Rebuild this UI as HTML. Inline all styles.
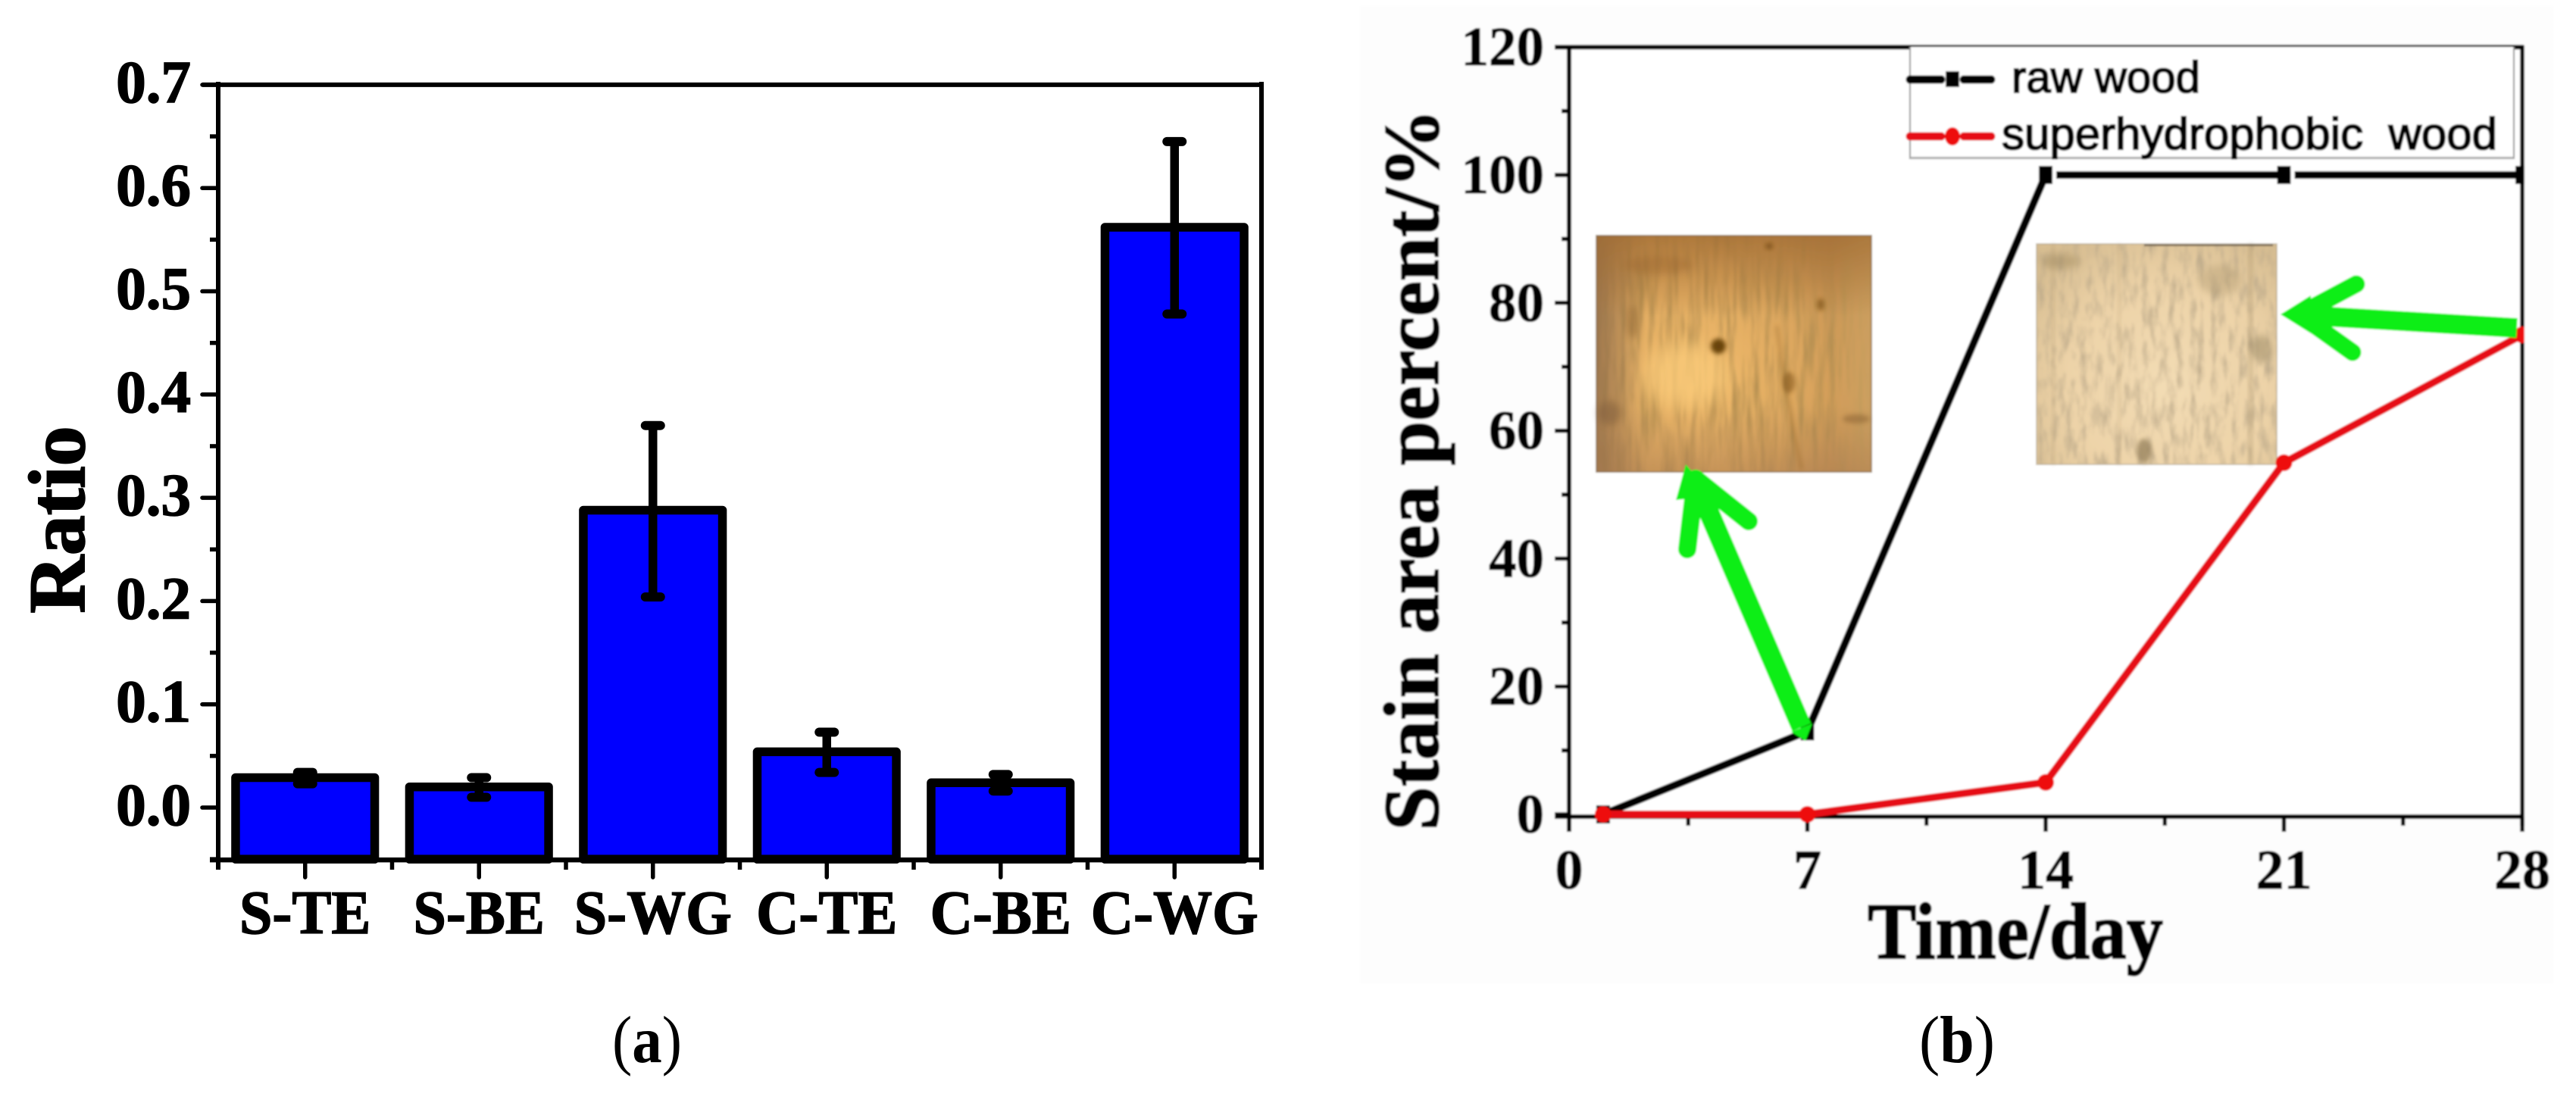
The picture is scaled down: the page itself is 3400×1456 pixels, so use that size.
<!DOCTYPE html>
<html lang="en">
<head>
<meta charset="utf-8">
<title>Ratio bar chart and stain area line chart</title>
<style>
html,body{margin:0;padding:0;background:#fff;}
body{width:3400px;height:1456px;overflow:hidden;}
svg{display:block;}
text{font-family:"Liberation Serif",serif;fill:#000;}
.sans{font-family:"Liberation Sans",sans-serif;}
</style>
</head>
<body>
<svg id="figure" xmlns="http://www.w3.org/2000/svg" width="3400" height="1456" viewBox="0 0 3400 1456">
  <defs>
    <clipPath id="plotClip"><rect x="2060" y="50" width="1272" height="1045"/></clipPath>
    <filter id="soft" x="-2%" y="-2%" width="104%" height="104%"><feGaussianBlur stdDeviation="1"/></filter>
    <filter id="blur3" x="-50%" y="-50%" width="200%" height="200%"><feGaussianBlur stdDeviation="3"/></filter>
    <filter id="blur5" x="-50%" y="-50%" width="200%" height="200%"><feGaussianBlur stdDeviation="5"/></filter>
    <filter id="blur12" x="-50%" y="-50%" width="200%" height="200%"><feGaussianBlur stdDeviation="12"/></filter>
    <filter id="grainA" x="0" y="0" width="100%" height="100%">
      <feTurbulence type="fractalNoise" baseFrequency="0.13 0.012" numOctaves="4" seed="4"/>
      <feColorMatrix type="matrix" values="0 0 0 0 0.45  0 0 0 0 0.27  0 0 0 0 0.08  2.2 0 0 0 -0.85"/>
      <feGaussianBlur stdDeviation="1"/>
      <feComposite in2="SourceGraphic" operator="in"/>
    </filter>
    <filter id="grainB" x="0" y="0" width="100%" height="100%">
      <feTurbulence type="fractalNoise" baseFrequency="0.11 0.03" numOctaves="4" seed="11"/>
      <feColorMatrix type="matrix" values="0 0 0 0 0.52  0 0 0 0 0.41  0 0 0 0 0.26  2.0 0 0 0 -0.86"/>
      <feGaussianBlur stdDeviation="1"/>
      <feComposite in2="SourceGraphic" operator="in"/>
    </filter>
    <radialGradient id="woodAGlow" gradientUnits="userSpaceOnUse" cx="2235" cy="500" r="270">
      <stop offset="0" stop-color="#f3be6e"/>
      <stop offset="0.55" stop-color="#dca65e"/>
      <stop offset="1" stop-color="#b8864e"/>
    </radialGradient>
    <linearGradient id="woodAEdge" x1="0" y1="0" x2="1" y2="0">
      <stop offset="0" stop-color="#8f6c4a" stop-opacity="0.8"/>
      <stop offset="0.18" stop-color="#8f6c4a" stop-opacity="0"/>
      <stop offset="0.85" stop-color="#e8bc72" stop-opacity="0"/>
      <stop offset="1" stop-color="#d9b06c" stop-opacity="0.5"/>
    </linearGradient>
    <linearGradient id="woodATop" x1="0" y1="0" x2="0" y2="1">
      <stop offset="0" stop-color="#a06a30" stop-opacity="0.7"/>
      <stop offset="0.34" stop-color="#a06a30" stop-opacity="0"/>
      <stop offset="0.72" stop-color="#a87a50" stop-opacity="0"/>
      <stop offset="1" stop-color="#a87a50" stop-opacity="0.45"/>
    </linearGradient>
    <radialGradient id="woodBGlow" gradientUnits="userSpaceOnUse" cx="2860" cy="510" r="220">
      <stop offset="0" stop-color="#f3dcb4"/>
      <stop offset="0.6" stop-color="#edd3a8"/>
      <stop offset="1" stop-color="#d8be92"/>
    </radialGradient>
  </defs>

  <rect x="0" y="0" width="3400" height="1456" fill="#ffffff"/>

  <g id="panel-a">
    <text transform="translate(111,686) rotate(-90)" text-anchor="middle" font-weight="700" font-size="106" stroke="#000" stroke-width="2">Ratio</text>
    <g id="a-bars"></g>
    <g id="a-axes"></g>
    <g id="a-errors"></g>
  </g>
  <text x="808" y="1402" font-size="88" textLength="92" lengthAdjust="spacingAndGlyphs">(<tspan font-weight="700">a</tspan>)</text>

  <g id="panel-b" filter="url(#soft)">
    <rect x="1795" y="8" width="1575" height="1290" fill="#fdfdfd"/>
    <rect x="2071" y="62" width="1259" height="1014" fill="#ffffff"/>

    <g>
      <rect x="2107" y="311" width="363" height="312" fill="url(#woodAGlow)"/>
      <rect x="2107" y="311" width="363" height="312" fill="#000" filter="url(#grainA)"/>
      <rect x="2107" y="311" width="363" height="312" fill="url(#woodAEdge)"/>
      <rect x="2107" y="311" width="363" height="312" fill="url(#woodATop)"/>
      <ellipse cx="2225" cy="495" rx="55" ry="42" fill="#f9c978" opacity="0.8" filter="url(#blur12)"/>
      <ellipse cx="2268" cy="457" rx="10" ry="10" fill="#5c3806" opacity="0.9" filter="url(#blur3)"/>
      <ellipse cx="2403" cy="402" rx="5" ry="8" fill="#7c5212" opacity="0.7" filter="url(#blur3)"/>
      <ellipse cx="2361" cy="505" rx="8" ry="14" fill="#83561a" opacity="0.6" filter="url(#blur3)"/>
      <ellipse cx="2335" cy="325" rx="5" ry="4" fill="#704510" opacity="0.7" filter="url(#blur3)"/>
      <ellipse cx="2155" cy="425" rx="8" ry="22" fill="#7a5526" opacity="0.4" filter="url(#blur5)"/>
      <ellipse cx="2125" cy="545" rx="16" ry="16" fill="#6f5030" opacity="0.4" filter="url(#blur5)"/>
      <ellipse cx="2450" cy="553" rx="18" ry="6" fill="#80592a" opacity="0.45" filter="url(#blur3)"/>
      <ellipse cx="2190" cy="350" rx="45" ry="12" fill="#95602a" opacity="0.35" filter="url(#blur5)"/>
      <path d="M2345 430 C2355 500 2365 560 2378 620" fill="none" stroke="#7d5318" stroke-width="4" opacity="0.35" filter="url(#blur3)"/>
      <rect x="2107" y="311" width="363" height="312" fill="none" stroke="#6f5230" stroke-opacity="0.55" stroke-width="2"/>
    </g>

    <g>
      <rect x="2688" y="322" width="317" height="291" fill="url(#woodBGlow)"/>
      <rect x="2688" y="322" width="317" height="291" fill="#000" filter="url(#grainB)"/>
      <rect x="2795" y="322" width="4" height="291" fill="#a58d68" opacity="0.22" filter="url(#blur3)"/>
      <rect x="2968" y="322" width="5" height="291" fill="#9a8460" opacity="0.35" filter="url(#blur3)"/>
      <rect x="2708" y="322" width="4" height="291" fill="#a58d68" opacity="0.25" filter="url(#blur3)"/>
      <ellipse cx="2830" cy="595" rx="10" ry="16" fill="#73603c" opacity="0.55" filter="url(#blur3)"/>
      <ellipse cx="2720" cy="345" rx="26" ry="10" fill="#a08a60" opacity="0.5" filter="url(#blur5)"/>
      <ellipse cx="2930" cy="370" rx="28" ry="20" fill="#a69069" opacity="0.35" filter="url(#blur5)"/>
      <ellipse cx="2985" cy="460" rx="14" ry="18" fill="#8a7a58" opacity="0.45" filter="url(#blur5)"/>
      <rect x="2830" y="322" width="170" height="3" fill="#5f5340" opacity="0.7"/>
      <rect x="2688" y="322" width="317" height="291" fill="none" stroke="#8a7a60" stroke-opacity="0.35" stroke-width="2"/>
    </g>

    <g id="b-axes"></g>
    <g id="b-series" clip-path="url(#plotClip)"></g>

    <g>
      <path d="M2521 62V209H3318V62" fill="#ffffff" stroke="#8c8c8c" stroke-width="2"/>
      <rect x="2521" y="207" width="797" height="3" fill="#aaaaaa"/>
      <g>
        <path d="M2521 105H2562M2592 105H2628" stroke="#000" stroke-width="11" stroke-linecap="round"/>
        <rect x="2568" y="94" width="18" height="21" fill="#000"/>
        <text class="sans" x="2655" y="122" font-size="58" stroke="#000" stroke-width="2" textLength="249" lengthAdjust="spacingAndGlyphs">raw wood</text>
      </g>
      <g>
        <path d="M2521 180H2562M2592 180H2628" stroke="#e60b14" stroke-width="11" stroke-linecap="round"/>
        <ellipse cx="2577" cy="180" rx="10" ry="12" fill="#ee0a10"/>
        <text class="sans" x="2642" y="197" font-size="59" stroke="#000" stroke-width="2" textLength="654" lengthAdjust="spacingAndGlyphs" xml:space="preserve">superhydrophobic  wood</text>
      </g>
    </g>

    <g fill="none" stroke="#0aee12" stroke-width="24" stroke-linecap="round" stroke-linejoin="round">
      <path d="M2238 632L2227 725"/>
      <path d="M2238 632L2308 688"/>
      <path d="M2240 640L2378 960" stroke-width="27" stroke-linecap="butt"/>
      <path d="M2225 613L2212 660L2262 655Z" fill="#0aee12" stroke="none"/>
      <path d="M2364 966L2392 955L2383 978Z" fill="#0aee12" stroke="none"/>
    </g>
    <g fill="none" stroke="#0aee12" stroke-width="23" stroke-linecap="round" stroke-linejoin="round">
      <path d="M3035 415L3110 375"/>
      <path d="M3035 415L3105 465"/>
      <path d="M3040 416L3322 433" stroke-width="26" stroke-linecap="butt"/>
      <path d="M3010 415L3050 390L3050 440Z" fill="#0aee12" stroke="none"/>
    </g>

    <text transform="translate(1898,620) rotate(-90)" text-anchor="middle" font-weight="700" font-size="104" stroke="#000" stroke-width="2" textLength="953" lengthAdjust="spacingAndGlyphs">Stain area percent/%</text>
    <text x="2465" y="1265" font-weight="700" font-size="106" stroke="#000" stroke-width="2" textLength="390" lengthAdjust="spacingAndGlyphs">Time/day</text>
  </g>
  <text x="2533" y="1402" font-size="88" textLength="100" lengthAdjust="spacingAndGlyphs">(<tspan font-weight="700">b</tspan>)</text>
</svg>

<script>
/* Panel (a) data */
const barCategories = ['S-TE', 'S-BE', 'S-WG', 'C-TE', 'C-BE', 'C-WG'];
const barValues = [0.029, 0.020, 0.288, 0.054, 0.024, 0.562];
const errorUpper = [0.034, 0.029, 0.370, 0.073, 0.032, 0.645];
const errorLower = [0.023, 0.010, 0.204, 0.034, 0.016, 0.478];
const ratioTicks = ['0.0', '0.1', '0.2', '0.3', '0.4', '0.5', '0.6', '0.7'];
const ratioMinorTicks = [-0.05, 0.05, 0.15, 0.25, 0.35, 0.45, 0.55, 0.65];

/* Panel (b) data */
const days = [1, 7, 14, 21, 28];
const rawWood = [0, 13, 100, 100, 100];
const superhydrophobicWood = [0, 0, 5, 55, 75];
const dayTicks = [0, 7, 14, 21, 28];
const dayMinorTicks = [3.5, 10.5, 17.5, 24.5];
const stainTicks = [0, 20, 40, 60, 80, 100, 120];
const stainMinorTicks = [10, 30, 50, 70, 90, 110];

const NS = 'http://www.w3.org/2000/svg';
function make(parent, tag, geometry) {
  const el = document.createElementNS(NS, tag);
  for (const key in geometry) el.setAttribute(key, geometry[key]);
  parent.appendChild(el);
  return el;
}

/* ---------- Panel (a) ---------- */
const ratioY = v => 1066 - v * 1363;
const A_LEFT = 288, A_RIGHT = 1665;
const bandWidth = (A_RIGHT - A_LEFT) / barCategories.length;
const bandX = i => A_LEFT + bandWidth * (i + 0.5);

const aBars = document.getElementById('a-bars');
const aAxes = document.getElementById('a-axes');
const aErrors = document.getElementById('a-errors');
const A_BOTTOM = ratioY(-0.05);

barValues.forEach((value, i) => {
  const w = bandWidth * 0.8;
  const bar = make(aBars, 'rect', {
    x: bandX(i) - w / 2, y: ratioY(value), width: w, height: A_BOTTOM - ratioY(value),
    fill: '#0000ff', stroke: '#000', 'stroke-width': 11.5, 'stroke-linejoin': 'round'
  });
  
  
});

const aLines = [
  [A_LEFT, 108, A_LEFT, 1148, 6],
  [A_RIGHT, 108, A_RIGHT, 1148, 6],
  [267, ratioY(0.7), A_RIGHT + 3, ratioY(0.7), 6],
  [277, A_BOTTOM + 1, A_RIGHT, A_BOTTOM + 1, 6.5]
];
aLines.forEach(p => {
  const line = make(aAxes, 'line', { x1: p[0], y1: p[1], x2: p[2], y2: p[3], stroke: '#000', 'stroke-width': p[4] });
  
  
});

ratioTicks.forEach(label => {
  const y = ratioY(parseFloat(label));
  const tick = make(aAxes, 'line', { x1: 267, y1: y, x2: A_LEFT, y2: y, stroke: '#000', 'stroke-width': 5.5, 'stroke-linecap': 'round' });
  
  
  const text = make(aAxes, 'text', { x: 252, y: y + 23, 'text-anchor': 'end', 'font-weight': 700, 'font-size': 79, stroke: '#000', 'stroke-width': 1.5 });
  text.textContent = label;
  
  
});
ratioMinorTicks.forEach(v => {
  const y = ratioY(v);
  const tick = make(aAxes, 'line', { x1: 277, y1: y, x2: A_LEFT, y2: y, stroke: '#000', 'stroke-width': 5.5 });
  
  
});

barCategories.forEach((name, i) => {
  const x = bandX(i);
  const tick = make(aAxes, 'line', { x1: x, y1: A_BOTTOM, x2: x, y2: 1158, stroke: '#000', 'stroke-width': 5.5, 'stroke-linecap': 'round' });
  
  
  if (i > 0) {
    const minor = make(aAxes, 'line', { x1: x - bandWidth / 2, y1: A_BOTTOM, x2: x - bandWidth / 2, y2: 1148, stroke: '#000', 'stroke-width': 5.5 });
    
    
  }
  const text = make(aAxes, 'text', { x: x, y: 1232, 'text-anchor': 'middle', 'font-weight': 700, 'font-size': 82, stroke: '#000', 'stroke-width': 1.5, 'lengthAdjust': 'spacingAndGlyphs' });
  text.textContent = name;
  
  
  text.setAttribute('textLength', text.getComputedTextLength() * 78 / 82);
});

barCategories.forEach((name, i) => {
  const x = bandX(i);
  const yTop = ratioY(errorUpper[i]);
  const yBottom = ratioY(errorLower[i]);
  const stem = make(aErrors, 'line', { x1: x, y1: yTop, x2: x, y2: yBottom, stroke: '#000', 'stroke-width': 11.5 });
  
  
  [yTop, yBottom].forEach(y => {
    const cap = make(aErrors, 'line', { x1: x - 10, y1: y, x2: x + 10, y2: y, stroke: '#000', 'stroke-width': 12, 'stroke-linecap': 'round' });
    
    
  });
});

/* ---------- Panel (b) ---------- */
const dayX = d => 2071 + d * 44.93;
const stainY = v => 1075 - v * 8.44;
const B_LEFT = dayX(0), B_RIGHT = dayX(28), B_AXIS_Y = 1078;

const bAxes = document.getElementById('b-axes');
const bSeries = document.getElementById('b-series');

const bLines = [
  [B_LEFT, 60, B_LEFT, 1098, 6],
  [B_RIGHT, 60, B_RIGHT, 1090, 5.5],
  [2052, stainY(120), B_RIGHT + 2, stainY(120), 6],
  [2052, B_AXIS_Y, B_RIGHT + 2, B_AXIS_Y, 6]
];
bLines.forEach(p => {
  const line = make(bAxes, 'line', { x1: p[0], y1: p[1], x2: p[2], y2: p[3], stroke: '#000', 'stroke-width': p[4] });
  
  
});

stainTicks.forEach(v => {
  const y = stainY(v);
  const tick = make(bAxes, 'line', { x1: 2052, y1: y, x2: B_LEFT, y2: y, stroke: '#000', 'stroke-width': 5.5 });
  
  
  const text = make(bAxes, 'text', { x: 2038, y: y + 24, 'text-anchor': 'end', 'font-weight': 700, 'font-size': 73, stroke: '#000', 'stroke-width': 1 });
  text.textContent = String(v);
  
  
});
stainMinorTicks.forEach(v => {
  const y = stainY(v);
  const tick = make(bAxes, 'line', { x1: 2061, y1: y, x2: B_LEFT, y2: y, stroke: '#000', 'stroke-width': 5.5 });
  
  
});
dayTicks.forEach(d => {
  const x = dayX(d);
  const tick = make(bAxes, 'line', { x1: x, y1: B_AXIS_Y, x2: x, y2: 1098, stroke: '#000', 'stroke-width': 5.5 });
  
  
  const text = make(bAxes, 'text', { x: x, y: 1173, 'text-anchor': 'middle', 'font-weight': 700, 'font-size': 74, stroke: '#000', 'stroke-width': 1 });
  text.textContent = String(d);
  
  
});
dayMinorTicks.forEach(d => {
  const x = dayX(d);
  const tick = make(bAxes, 'line', { x1: x, y1: B_AXIS_Y, x2: x, y2: 1090, stroke: '#000', 'stroke-width': 5.5 });
  
  
});

const pointsOf = values => values.map((v, i) => dayX(days[i]) + ',' + stainY(v)).join(' ');

const rawLine = make(bSeries, 'polyline', { points: pointsOf(rawWood), fill: 'none', stroke: '#000', 'stroke-width': 10, 'stroke-linejoin': 'round' });


rawWood.forEach((v, i) => {
  const size = 18;
  const halo = make(bSeries, 'rect', { x: dayX(days[i]) + size / 2, y: stainY(v) - 8, width: 5, height: 16, fill: '#ffffff', opacity: v >= 100 && i < 4 ? 1 : 0 });
  
  
  const marker = make(bSeries, 'rect', { x: dayX(days[i]) - size / 2, y: stainY(v) - 12, width: size, height: 24, fill: '#000' });
  
  
});

const redLine = make(bSeries, 'polyline', { points: pointsOf(superhydrophobicWood), fill: 'none', stroke: '#e60b14', 'stroke-width': 10, 'stroke-linejoin': 'round' });


superhydrophobicWood.forEach((v, i) => {
  const marker = make(bSeries, 'circle', { cx: dayX(days[i]), cy: stainY(v), r: 11, fill: '#ee0a10' });
  
  
});
</script>
</body>
</html>
